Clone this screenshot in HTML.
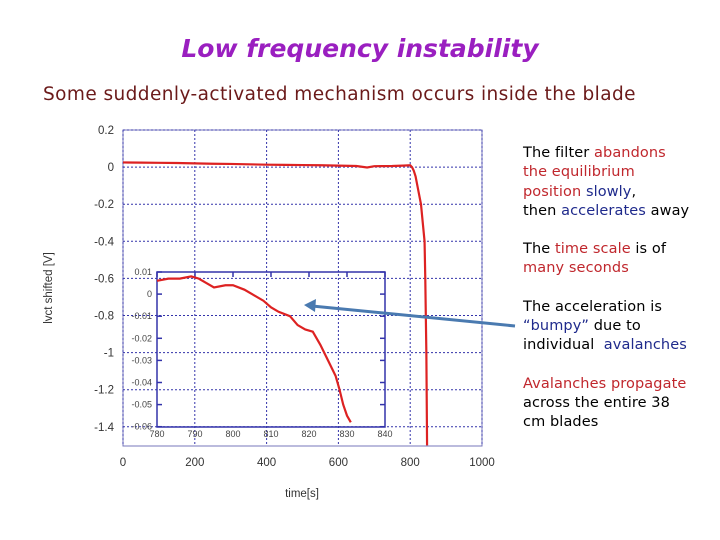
<!DOCTYPE html>
<html><head><meta charset="utf-8"><style>
body{margin:0;width:720px;height:540px;background:#fff;overflow:hidden;position:relative;font-family:"DejaVu Sans","Liberation Sans",sans-serif}
.t{position:absolute;white-space:nowrap}
.r{color:#c0272d}.b{color:#1f2a8c}
#notes{position:absolute;left:523px;top:144px;font-size:14.5px;line-height:19.3px;color:#000;letter-spacing:0.1px}
#notes p{margin:0 0 19px 0}
</style></head><body>
<div class="t" style="left:0;width:720px;text-align:center;top:34px;font-size:25px;font-weight:bold;font-style:italic;color:#9a1fc0">Low frequency instability</div>
<div class="t" style="left:43px;top:84px;font-size:18.5px;letter-spacing:0.42px;color:#6b1a1a">Some suddenly-activated mechanism occurs inside the blade</div>
<div id="notes">
<p>The filter <span class="r">abandons<br>the equilibrium<br>position</span> <span class="b">slowly</span>,<br>then <span class="b">accelerates</span> away</p>
<p>The <span class="r">time scale</span> is of<br><span class="r">many seconds</span></p>
<p>The acceleration is<br><span class="b">“bumpy”</span> due to<br>individual &nbsp;<span class="b">avalanches</span></p>
<p><span class="r">Avalanches propagate</span><br>across the entire 38<br>cm blades</p>
</div>
<svg id="chart" width="720" height="540" style="position:absolute;left:0;top:0"></svg>
<script>
const mainX=[0,50,100,150,200,250,300,350,400,450,500,550,600,650,680,700,750,780,800,805,810,815,820,825,830,835,840,842,845,847];
const mainY=[0.025,0.024,0.023,0.022,0.02,0.018,0.017,0.015,0.013,0.012,0.011,0.01,0.008,0.006,-0.002,0.005,0.006,0.008,0.01,0.0,-0.02,-0.05,-0.1,-0.15,-0.2,-0.3,-0.4,-0.6,-1.0,-1.5];
const insetX=[780,783,786,789,791,793,795,798,800,803,805,808,810,812,815,817,819,821,823,825,827,828,829,830,831];
const insetY=[0.006,0.007,0.007,0.008,0.007,0.005,0.003,0.004,0.004,0.002,0.0,-0.003,-0.006,-0.008,-0.01,-0.014,-0.016,-0.017,-0.023,-0.03,-0.037,-0.043,-0.05,-0.055,-0.058];
const xTicks=[0,200,400,600,800,1000];
const yTicks=[0.2,0,-0.2,-0.4,-0.6,-0.8,-1,-1.2,-1.4];
const yTickLabels=["0.2","0","-0.2","-0.4","-0.6","-0.8","-1","-1.2","-1.4"];
const ixTicks=[780,790,800,810,820,830,840];
const iyTicks=[0.01,0,-0.01,-0.02,-0.03,-0.04,-0.05,-0.06];
const iyTickLabels=["0.01","0","-0.01","-0.02","-0.03","-0.04","-0.05","-0.06"];
const svg=document.getElementById('chart');const NS='http://www.w3.org/2000/svg';
function mk(tag,a,p){const e=document.createElementNS(NS,tag);for(const k in a)e.setAttribute(k,a[k]);(p||svg).appendChild(e);return e;}
const X=v=>123+(v-0)/1000*359, Y=v=>130+(0.2-v)/0.2*37.1;
const IX=v=>157+(v-780)/60*228, IY=v=>272+(0.01-v)/0.01*22.1;
let e=mk('rect',{x:123,y:130,width:359,height:316,fill:'#fff',stroke:'#7777bb','stroke-width':1});


xTicks.forEach(v=>{let g=mk('line',{x1:X(v),x2:X(v),y1:130,y2:446,stroke:'#3333aa','stroke-dasharray':'2,2','stroke-width':1});


let t=mk('text',{x:X(v),y:466,'text-anchor':'middle','font-size':11.5,fill:'#333','font-family':'Liberation Sans'});t.textContent=v;

});
yTicks.forEach((v,i)=>{let g=mk('line',{x1:123,x2:482,y1:Y(v),y2:Y(v),stroke:'#3333aa','stroke-dasharray':'2,2','stroke-width':1});


let t=mk('text',{x:114,y:Y(v)+4,'text-anchor':'end','font-size':11.5,fill:'#333','font-family':'Liberation Sans'});t.textContent=yTickLabels[i];

});
let xt=mk('text',{x:302,y:497,'text-anchor':'middle','font-size':11.5,fill:'#333','font-family':'Liberation Sans'});xt.textContent='time[s]';


let yt=mk('text',{x:0,y:0,'text-anchor':'middle','font-size':11.5,fill:'#333','font-family':'Liberation Sans',transform:'translate(52,288) rotate(-90)'});yt.textContent='lvct shifted [V]';


let ml=mk('polyline',{points:mainX.map((x,i)=>X(x)+','+Y(mainY[i])).join(' '),fill:'none',stroke:'#dd2222','stroke-width':2.2});


let ir=mk('rect',{x:157,y:272,width:228,height:155,fill:'none',stroke:'#3333aa','stroke-width':1.5});


ixTicks.forEach(v=>{mk('line',{x1:IX(v),x2:IX(v),y1:272,y2:277,stroke:'#3333aa','stroke-width':1.5});
let t=mk('text',{x:IX(v),y:437,'text-anchor':'middle','font-size':9,fill:'#444','font-family':'Liberation Sans'});t.textContent=v;

});
iyTicks.forEach((v,i)=>{mk('line',{x1:157,x2:162,y1:IY(v),y2:IY(v),stroke:'#3333aa','stroke-width':1.5});mk('line',{x1:380,x2:385,y1:IY(v),y2:IY(v),stroke:'#3333aa','stroke-width':1.5});
let t=mk('text',{x:152,y:IY(v)+3,'text-anchor':'end','font-size':9,fill:'#444','font-family':'Liberation Sans'});t.textContent=iyTickLabels[i];

});
let il=mk('polyline',{points:insetX.map((x,i)=>IX(x)+','+IY(insetY[i])).join(' '),fill:'none',stroke:'#dd2222','stroke-width':2.2});


let ar=mk('line',{x1:515,y1:326,x2:312,y2:306,stroke:'#4a7ab0','stroke-width':3});


let ah=mk('polygon',{points:'304,305 316,299 315,312',fill:'#4a7ab0'});


</script>
</body></html>
